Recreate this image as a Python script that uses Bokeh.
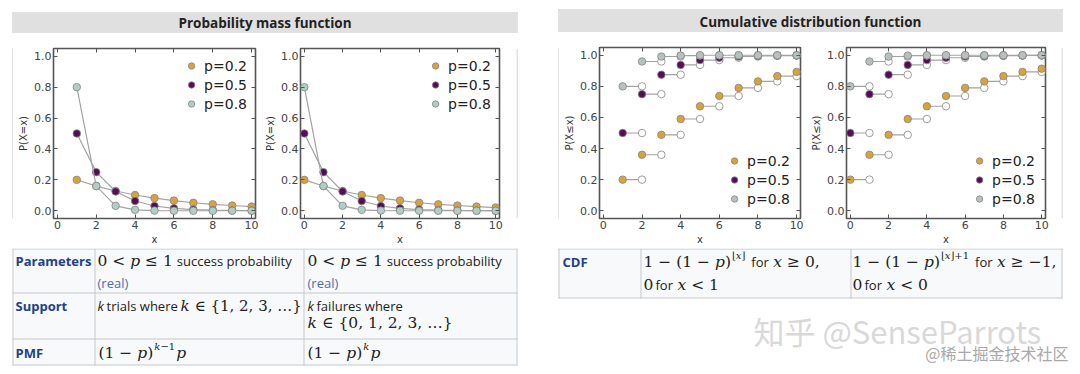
from bokeh.plotting import figure
from bokeh.layouts import row, column
from bokeh.models import (Range1d, LinearAxis, FixedTicker, PrintfTickFormatter,
                          CustomJSTickFormatter, Legend, LegendItem)
from bokeh.core.properties import value
from bokeh.embed import file_html
from bokeh.resources import INLINE

# ---------------- data ----------------
x_trials = [1, 2, 3, 4, 5, 6, 7, 8, 9, 10]
x_failures = [0, 1, 2, 3, 4, 5, 6, 7, 8, 9, 10]
series_labels = ["p=0.2", "p=0.5", "p=0.8"]
pmf_p02 = [0.200, 0.160, 0.128, 0.102, 0.082, 0.066, 0.052, 0.042, 0.034, 0.027, 0.021]
pmf_p05 = [0.500, 0.250, 0.125, 0.063, 0.031, 0.016, 0.008, 0.004, 0.002, 0.001, 0.0005]
pmf_p08 = [0.800, 0.160, 0.032, 0.006, 0.001, 0.0003, 0.0001, 0.0, 0.0, 0.0, 0.0]
cdf_p02 = [0.200, 0.360, 0.488, 0.590, 0.672, 0.738, 0.790, 0.832, 0.866, 0.893, 0.914]
cdf_p05 = [0.500, 0.750, 0.875, 0.938, 0.969, 0.984, 0.992, 0.996, 0.998, 0.999, 0.9995]
cdf_p08 = [0.800, 0.960, 0.992, 0.998, 1.000, 1.000, 1.000, 1.000, 1.000, 1.000, 1.000]
x_ticks = [0, 2, 4, 6, 8, 10]
y_ticks = [0.0, 0.2, 0.4, 0.6, 0.8, 1.0]

PMF_COLORS = ["#d8a23c", "#560d57", "#afcfc6"]
CDF_COLORS = ["#d8a23c", "#560d57", "#b9c1be"]
EDGE = "#858585"
LINE = "#a3a3a3"

BORDER = "#c4c7cc"
HEADER = "#e0e0e0"
CELL = "#f8f9fa"
LABEL_BLUE = "#233f8c"
LINK_BLUE = "#4a6db3"
TXT = "#222222"
SANS = "Open Sans"
SERIF = "DejaVu Serif"
MS = 15.5  # math font size

# approximate advance widths (em) of DejaVu Serif, for laying out math segments
W = {" ": 0.318, "<": 0.838, "\u2264": 0.838, "\u2265": 0.838, "\u2212": 0.838, "+": 0.838,
     "(": 0.390, ")": 0.390, ",": 0.318, "{": 0.636, "}": 0.636, "\u2026": 1.0,
     "\u2208": 0.72, "p": 0.640, "k": 0.620, "x": 0.564, "\u230a": 0.39, "\u230b": 0.39}
for d in "0123456789":
    W[d] = 0.636


def canvas(w, h):
    c = figure(width=w, height=h, x_range=Range1d(0, w), y_range=Range1d(h, 0),
               min_border_left=0, min_border_right=0, min_border_top=0, min_border_bottom=0,
               x_axis_location=None, y_axis_location=None,
               toolbar_location=None, output_backend="svg")
    c.grid.visible = False
    c.outline_line_color = None
    c.background_fill_color = "white"
    c.border_fill_color = "white"
    return c


def box(c, l, r, t, b, color):
    c.quad(left=[l], right=[r], top=[t], bottom=[b], fill_color=color, line_color=None)


def txt(c, x, y, s, size="13px", font=SANS, color=TXT, style="normal", align="left"):
    c.text(x=[x], y=[y], text=[s], text_font=value(font), text_font_size=size,
           text_color=color, text_font_style=style, text_baseline="middle", text_align=align)


def math(c, x, y, parts, size=MS):
    """parts: list of (string, italic). Returns the x where the run ends."""
    for s, it in parts:
        lead = len(s) - len(s.lstrip(" "))
        x += lead * W[" "] * size
        s = s.lstrip(" ")
        if s.strip():
            txt(c, x, y, s, size=f"{size}px", font=SERIF, style="italic" if it else "normal")
        x += sum(W.get(ch, 0.6) for ch in s) * size
    return x


def chart(w, h, bl, br, bt, bb, ylabel):
    p = figure(width=w, height=h, x_range=Range1d(-0.2, 10.2), y_range=Range1d(-0.05, 1.05),
               min_border_left=bl, min_border_right=br, min_border_top=bt, min_border_bottom=bb,
               toolbar_location=None, output_backend="svg")
    p.grid.visible = False
    p.background_fill_color = "white"
    p.border_fill_color = "white"
    p.outline_line_color = "#555555"
    p.outline_line_width = 1.6
    p.xaxis.ticker = FixedTicker(ticks=x_ticks)
    p.yaxis.ticker = FixedTicker(ticks=y_ticks)
    p.yaxis.formatter = PrintfTickFormatter(format="%.1f")
    p.xaxis.axis_label = "x"
    p.yaxis.axis_label = ylabel
    for ax in [p.xaxis[0], p.yaxis[0]]:
        ax.axis_line_color = None
        ax.major_tick_in = 4
        ax.major_tick_out = 0
        ax.major_tick_line_color = "#555555"
        ax.minor_tick_line_color = None
        ax.major_label_text_font = "DejaVu Sans"
        ax.major_label_text_font_size = "11px"
        ax.major_label_text_color = "#444444"
        ax.major_label_standoff = 2
        ax.axis_label_standoff = 2
        ax.axis_label_text_font = "DejaVu Sans"
        ax.axis_label_text_font_size = "10px"
        ax.axis_label_text_font_style = "normal"
        ax.axis_label_text_color = "#333333"
    for loc, tk in [("above", x_ticks), ("right", y_ticks)]:
        ax = LinearAxis(ticker=FixedTicker(ticks=tk),
                        formatter=CustomJSTickFormatter(code="return ''"),
                        axis_line_color=None, major_tick_in=4, major_tick_out=0,
                        major_tick_line_color="#555555", minor_tick_line_color=None,
                        major_label_standoff=0, major_label_text_font_size="1px")
        p.add_layout(ax, loc)
    return p


def legend(p, rends, loc, margin):
    lg = Legend(items=[LegendItem(label=l, renderers=[r]) for l, r in zip(series_labels, rends)],
                location=loc, border_line_color=None, background_fill_alpha=0,
                label_text_font="DejaVu Sans", label_text_font_size="14px",
                label_text_color="#222222", glyph_width=16, glyph_height=19,
                label_height=19, label_standoff=5, spacing=0, padding=0, margin=margin)
    p.add_layout(lg)


def pmf_chart(w, bl, br, xs, h=215):
    p = chart(w, h, bl, br, 15, 30, "P(X=x)")
    n = len(xs)
    rends = []
    for vals, col in zip([pmf_p02, pmf_p05, pmf_p08], PMF_COLORS):
        p.line(xs, vals[:n], line_color=LINE, line_width=1.2)
        r = p.scatter(xs, vals[:n], size=7.5, fill_color=col, line_color=EDGE, line_width=0.8)
        rends.append(r)
    legend(p, rends, "top_right", 8)
    return p


def cdf_chart(w, bl, br, xs, h=216):
    p = chart(w, h, bl, br, 15, 30, "P(X\u2264x)")
    n = len(xs)
    xn = [x + 1 for x in xs]
    rends = []
    for vals, col in zip([cdf_p02, cdf_p05, cdf_p08], CDF_COLORS):
        v = vals[:n]
        p.segment(x0=xs, y0=v, x1=xn, y1=v, line_color=LINE, line_width=1.2)
        p.scatter(xn, v, size=7.5, fill_color="white", line_color=EDGE, line_width=0.8)
        r = p.scatter(xs, v, size=7.5, fill_color=col, line_color=EDGE, line_width=0.8)
        rends.append(r)
    legend(p, rends, "bottom_right", 10)
    return p


# ---------------- left panel (page x 0..537) ----------------
topL = canvas(537, 33)
box(topL, 12, 517, 12, 13, BORDER)
box(topL, 12, 13, 12, 33, BORDER)
box(topL, 516, 517, 12, 33, BORDER)
box(topL, 13, 516, 13, 33, HEADER)
txt(topL, 264.5, 22.5, "Probability mass function", size="13.5px", style="bold", align="center")

dL1 = canvas(13, 215)
box(dL1, 12, 13, 0, 215, BORDER)
dL2 = canvas(21, 215)
box(dL2, 0, 1, 0, 215, BORDER)

p1 = pmf_chart(249, 40, 7, x_trials)
p2 = pmf_chart(254, 37, 17, x_failures)

# table: local y = page y - 248
tabL = canvas(537, 126)
box(tabL, 13, 516, 0, 116, CELL)
for y in [0, 44, 90, 116]:
    box(tabL, 12, 517, y, y + 1, BORDER)
for x in [12, 94, 303, 516]:
    box(tabL, x, x + 1, 0, 117, BORDER)
txt(tabL, 15, 12, "Parameters", size="13px", color=LABEL_BLUE, style="bold")
txt(tabL, 15, 57, "Support", size="13px", color=LABEL_BLUE, style="bold")
txt(tabL, 15, 104, "PMF", size="13px", color=LABEL_BLUE, style="bold")
for x0 in [97, 307]:
    xe = math(tabL, x0, 12, [("0 < ", False), ("p", True), (" \u2264 1", False)])
    txt(tabL, xe + 4, 12, "success probability", size="13px")
    txt(tabL, x0, 34, "(real)", size="13px", color=LINK_BLUE)
txt(tabL, 97, 57, "k", size="13px", style="italic")
txt(tabL, 106, 57, "trials where", size="13px")
math(tabL, 180, 57, [("k", True), (" \u2208 {1, 2, 3, \u2026}", False)], size=15)
txt(tabL, 307, 57, "k", size="13px", style="italic")
txt(tabL, 316, 57, "failures where", size="13px")
math(tabL, 307, 74, [("k", True), (" \u2208 {0, 1, 2, 3, \u2026}", False)])
for x0, sup in [(98, [("k", True), ("\u22121", False)]), (307, [("k", True)])]:
    xe = math(tabL, x0, 104, [("(1 \u2212 ", False), ("p", True), (")", False)])
    xe = math(tabL, xe + 1, 98, sup, size=10)
    math(tabL, xe + 1, 104, [("p", True)])

left_col = column(topL, row(dL1, p1, p2, dL2), tabL)

# ---------------- right panel (page x 537..1080) ----------------
topR = canvas(543, 32)
box(topR, 21, 525, 9, 10, BORDER)
box(topR, 21, 22, 9, 32, BORDER)
box(topR, 524, 525, 9, 32, BORDER)
box(topR, 22, 524, 10, 32, HEADER)
txt(topR, 273, 21, "Cumulative distribution function", size="13.5px", style="bold", align="center")

dR1 = canvas(22, 216)
box(dR1, 21, 22, 0, 216, BORDER)
dR2 = canvas(19, 216)
box(dR2, 0, 1, 0, 216, BORDER)

p3 = cdf_chart(249, 40, 8, x_trials)
p4 = cdf_chart(253, 37, 16, x_failures)

tabR = canvas(543, 126)
box(tabR, 22, 524, 0, 49, CELL)
for y in [0, 49]:
    box(tabR, 21, 525, y, y + 1, BORDER)
for x in [21, 103, 313, 524]:
    box(tabR, x, x + 1, 0, 50, BORDER)
txt(tabR, 25, 13, "CDF", size="13px", color=LABEL_BLUE, style="bold")
cdf_rows = [
    (106, [("\u230a", False), ("x", True), ("\u230b", False)], " \u2265 0,", " < 1"),
    (315, [("\u230a", False), ("x", True), ("\u230b+1", False)], " \u2265 \u22121,", " < 0"),
]
for x0, sup, cond1, cond2 in cdf_rows:
    xe = math(tabR, x0, 13, [("1 \u2212 (1 \u2212 ", False), ("p", True), (")", False)])
    xe = math(tabR, xe + 1, 7, sup, size=10)
    txt(tabR, xe + 6, 13, "for", size="13px")
    math(tabR, xe + 28, 13, [("x", True), (cond1, False)])
    math(tabR, x0, 36, [("0", False)])
    txt(tabR, x0 + 12, 36, "for", size="13px")
    math(tabR, x0 + 34, 36, [("x", True), (cond2, False)])
txt(tabR, 216, 82, "\u77e5\u4e4e @SenseParrots", size="31px", font="Noto Sans CJK SC",
    color="#d9d9d9")
txt(tabR, 531, 104, "@\u7a00\u571f\u6398\u91d1\u6280\u672f\u793e\u533a", size="16px",
    font="Noto Sans CJK SC", color="#a8a8a8", align="right")

right_col = column(topR, row(dR1, p3, p4, dR2), tabR)

layout = row(left_col, right_col)

with open("out.html", "w") as f:
    f.write(file_html(layout, INLINE))
